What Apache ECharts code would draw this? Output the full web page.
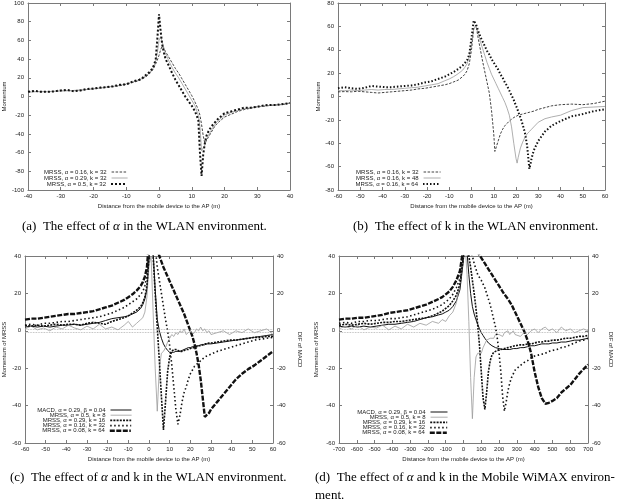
<!DOCTYPE html>
<html><head><meta charset="utf-8">
<script src="https://cdn.jsdelivr.net/npm/echarts@6/dist/echarts.min.js"></script>
<style>html,body{margin:0;padding:0;background:#fff}#c{width:620px;height:503px}</style>
</head><body><div id="c"></div><script>
// ---------- (a) effect of alpha, WLAN ----------
const xA = [-40,-38,-36,-34,-32,-30,-28,-26,-24,-22,-20,-18,-16,-14,-12,-10,-8,-6,-5,-4,-3,-2,-1.5,-1,-0.5,0,0.5,1,1.5,2,3,4,5,6,7,8,9,10,11,12,12.5,13,13.5,14,14.5,15,16,17,18,19,20,22,24,26,28,30,32,34,36,38,40];
const a016 = [5,5.5,5,5.2,5.5,6,6.5,6,6.5,7.5,8,9,10,10.5,11.5,13,15,17,19,21,24,28,31,35,39,44,50,54,52,48,42,36,30,25,19,13,7,1,-6,-14,-20,-30,-42,-50,-48,-44,-38,-32,-28,-25,-22,-19,-16,-14,-12.5,-11,-10.5,-9.5,-9,-8.5,-7];
const a029 = [4.5,5,5.5,5,5.5,6,6,6.5,7,7.5,8.5,9,10,11,12,13.5,15.5,18,20,22,25,29,33,38,47,60,64,58,52,46,38,31,25,20,14,8,2,-4,-10,-20,-32,-58,-60,-52,-46,-42,-36,-30,-26,-23,-20,-17,-15,-13,-12,-11,-10,-9.5,-9,-8,-7];
const a05 = [5,6,5,5,5.5,6.5,7,5.5,6.5,8,8.5,9.5,10,11,12.5,13,16,18,20,23,26,30,34,40,62,88,70,55,47,40,33,25,18,12,6,0,-5,-10,-16,-25,-60,-85,-62,-50,-42,-38,-32,-28,-24,-21,-18,-16,-14,-12,-12,-11,-9.5,-9,-9,-8,-7];
const namesA = ['MRSS, α = 0.16, k = 32','MRSS, α = 0.29, k = 32','MRSS, α = 0.5, k = 32'];

// ---------- (b) effect of k, WLAN ----------
const xB = [-60,-57,-54,-51,-48,-45,-42,-39,-36,-33,-30,-27,-24,-21,-18,-15,-12,-10,-8,-6,-4,-3,-2,-1,0,1,2,3,4,5,6,7,8,9,10,10.5,11,12,13,14,15,16,17,18,19,20,20.5,21,22,23,24,25,26,26.5,27,28,30,33,36,40,45,50,55,60];
const b32 = [4,4.2,4,4.5,4,3.5,3,3.5,4,4.5,5,5.5,6.5,7,8,9,10,11,12.5,14,17,19,22,28,40,58,61,50,40,30,21,12,3,-12,-32,-47,-44,-38,-32,-28,-25,-23,-21,-19.5,-18,-17,-16.5,-16,-15.5,-15,-14.5,-14,-13.5,-13.3,-13,-12.5,-11,-9.5,-8,-7,-6.5,-7,-6,-4];
const b48 = [5,5,5.5,5,5.5,6,5.5,6,6,6.5,7,7.5,8,9,10,11,13.5,15,17,19.5,22.5,25,28,34,45,58,60,54,47,41,35,29,24,19,15,13,11,7,3,-1,-5,-10,-16,-26,-40,-53,-57,-52,-44,-39,-35,-32,-30,-29,-28,-26,-22,-19,-17.5,-16,-12,-9.5,-9,-8.5];
const b64 = [7,8,7,6.5,7.5,9,8.5,8,8,8.5,9,9.5,10.5,12,13,15,17,19,21,23.5,26.5,28.5,31,36,50,65,62,56,51,47,43,39,36,32,29,27.5,26,23,19,16,12,9,5,1,-3,-8,-10,-13,-18,-24,-31,-42,-62,-58,-53,-46,-38,-30,-25,-21,-17,-15,-12.5,-11];
const namesB = ['MRSS, α = 0.16, k = 32','MRSS, α = 0.16, k = 48','MRSS, α = 0.16, k = 64'];

// ---------- (c) alpha and k, WLAN ----------
const xC = [-60,-57,-54,-51,-48,-45,-42,-39,-36,-33,-30,-27,-24,-21,-18,-15,-12,-10,-8,-6,-4,-3,-2,-1,0,1,2,3,4,5,6,7,8,9,10,11,12,13,14,15,16,17,18,19,20,21,22,23,24,25,26,27,28,29,30,33,36,39,42,45,48,51,54,57,60];
const cMACD = [2,2.5,2,2.5,2,2.5,3,3,3.5,3,3.5,4,4.5,5.5,6.5,7,7.5,8,9,10,12,14,17,22,38,50,42,22,6,0,-4,-7,-9,-10.5,-11.5,-11.5,-11.5,-11,-11,-11,-10.5,-10,-9.5,-9,-9,-8.5,-8.5,-8,-8,-7.5,-7.5,-7.5,-7,-7,-7,-6.5,-6,-5.5,-5,-4.5,-4,-3.5,-3,-2.5,-2];
const cK8 = [1,2.5,0.5,1.5,0,2,1,3,1.5,0.5,2.5,1,3.5,1,2,0.5,3,5,2,4,6,7,10,18,35,40,10,-20,-43,-20,-12,-11,-9,-6,-4,-2,-3,-1,-2,0,-1,1,-2,-1,0,-2,-1,1,0,2,0,1,-1,0,-2,-1,0,-2,0,-1,1,-1,0,1,-2];
const cK16 = [3,2.5,3,2.5,3,3.5,3,3.5,3.5,3,4,4.5,4,3.5,5,6,7,8,9.5,11,13,15,18,24,40,55,40,20,2,-16,-35,-53,-38,-22,-14,-11,-10,-10,-10.5,-11,-11,-10.5,-10,-10,-9.5,-9,-9,-8.5,-8,-8,-7.5,-7,-7,-6.5,-6.5,-6,-5.5,-5,-5,-4.5,-4,-3.5,-3.5,-3,-3];
const cK32 = [3,3.5,3,4,4,4.5,5,5,5.5,6,6.5,7,7.5,8.5,9.5,11,12.5,14,15.5,17,19.5,21,24,30,45,58,55,45,34,27,20,13,6,0,-8,-18,-30,-42,-50,-45,-38,-33,-30,-26,-23,-21,-19,-18,-17,-16,-15,-14,-13.5,-13,-12.5,-11,-10,-9,-8,-7,-6,-5,-4.5,-4,-3.5];
const cK64 = [6,6.5,6.5,7,7.5,8,8.5,9,9,9.5,10,10.5,11.5,12.5,13.5,15,16.5,18,19.5,21.5,24,26,29,34,48,58,55,48,44,40,37,34,31.5,29,26.5,24,21.5,19,16.5,14,11.5,9,6,3,0,-3,-7,-12,-18,-26,-36,-46,-45,-44,-42,-38,-34,-30,-26,-23,-20.5,-18.5,-16,-13.5,-11];

// ---------- (d) alpha and k, Mobile WiMAX ----------
const xD = [-700,-665,-630,-595,-560,-525,-490,-455,-420,-385,-350,-315,-280,-245,-210,-175,-140,-120,-100,-80,-60,-40,-20,0,10,20,30,40,50,60,70,80,90,100,110,120,130,140,150,160,170,180,190,200,210,220,230,240,250,260,270,280,290,300,320,340,360,380,400,420,440,460,480,500,525,550,575,600,625,650,675,700];
const dMACD = [2.5,2,2.5,2,2.5,2,2.5,3,3.5,3.5,4,4.5,5,6,7,7.5,8.5,9,10,11,13,16,22,38,50,42,30,20,13,9,6,3.5,1,-1,-2.5,-4,-5,-6.5,-7.5,-8,-8.5,-9,-9.5,-9.5,-10,-10,-10,-10,-10,-10,-10,-9.5,-9.5,-9.5,-9,-9,-8.5,-8,-8,-7.5,-7,-7,-7,-6.5,-6.5,-6,-6,-5.5,-5,-5,-4.5,-4];
const dK8 = [1,2.5,1,3,0.5,2,1.5,3,0.5,2.5,1,3.5,2,4,3,5,4,6,5,8,10,15,25,40,45,30,5,-25,-47,-25,-14,-12,-11,-12,-9,-7,-5,-6,-4,-3,-4,-2,-3,-2,-1,-3,-1,-2,0,-2,-1,0,-2,-1,-3,-1,-2,0,1,-1,1,2,0,1,-1,2,0,1,-1,0,1,0];
const dK16 = [3,3.5,3,3.5,4,3.5,4,4.5,4.5,5,5,5.5,6,6.5,7,8,9.5,10.5,12,13.5,16,19,25,40,52,48,40,34,27,20,12,3,-8,-22,-36,-42,-33,-22,-16,-13,-11.5,-11,-10.5,-10,-10,-9.5,-9.5,-9,-9,-9,-8.5,-8.5,-8,-8,-7.5,-7.5,-7,-7,-6.5,-6,-6,-5.5,-5.5,-5,-5,-4.5,-4,-4,-3.5,-3,-3,-2.5];
const dK32 = [4,4.5,4,5,5,5.5,5.5,6,6.5,6.5,7,7.5,8.5,9.5,10.5,11.5,13,14,15.5,17,19.5,23,28,42,55,52,48,44,40,36,33,30,28.5,27,25,23,20,17,14,10,6,2,-4,-12,-22,-35,-43,-38,-32,-28,-25,-23,-21,-20,-18.5,-17,-16,-14.5,-13.5,-13,-12.5,-12,-11,-10.5,-10,-9,-8.5,-7.5,-6.5,-5.5,-5,-4];
const dK64 = [6,6.5,6.5,7,7,7.5,8,8.5,9.5,10,10.5,11,12,13,14,15.5,17,18,19.5,21,23.5,27,32,45,55,55,52,50,48,46,44,42,41,39,37.5,36,34.5,33,31.5,30,28.5,27,25.5,24,22.5,21,19.5,18.5,17,15.5,14,12,10,8,4,0,-5,-12,-22,-30,-36,-39,-38.5,-37.5,-36,-33,-31,-29,-26,-23,-20.5,-18];
const namesCD = ['MACD, α = 0.29, β = 0.04','MRSS, α = 0.5, k = 8','MRSS, α = 0.29, k = 16','MRSS, α = 0.16, k = 32','MRSS, α = 0.08, k = 64'];

const xTitle = 'Distance from the mobile device to the AP (m)';

// ---------- styles ----------
const FRAME = '#7a7a7a', TXT = '#222', FONT = 'Liberation Sans';
const ST = {
  thinDash: {color:'#111', width:0.8, type:[2.5,1.5]},
  gray: {color:'#9a9a9a', width:0.8, type:'solid'},
  thickDash: {color:'#111', width:2, type:[2,2]},
  thickDot: {color:'#111', width:2, type:[1.5,2]},
  macd: {color:'#111', width:1, type:'solid'},
  k16: {color:'#111', width:1.6, type:[2,1.2]},
  k32: {color:'#111', width:1.6, type:[1.5,2.5]},
  k64: {color:'#111', width:2.4, type:[5,1.5]}
};
const stylesA = [ST.thinDash, ST.gray, ST.thickDash];
const stylesB = [ST.thinDash, ST.gray, ST.thickDot];
const stylesCD = [ST.macd, ST.gray, ST.k16, ST.k32, ST.k64];

const zip = (xs, ys) => xs.map((x, i) => [x, ys[i]]);
const tag = n => '\u200b'.repeat(n);

function xAx(grid, min, max, step, pos, labels, name) {
  return {type:'value', gridIndex:grid, min, max, interval:step, position:pos,
    axisLine:{show:true, onZero:false, lineStyle:{color:FRAME, width:1}},
    axisTick:{show:true, inside:true, length:3, lineStyle:{color:FRAME}},
    splitLine:{show:false},
    axisLabel:{show:labels, fontSize:6, color:TXT, margin:3, fontFamily:FONT},
    name:name || '', nameLocation:'middle', nameGap:13,
    nameTextStyle:{fontSize:6, color:TXT, fontFamily:FONT}};
}
function yAx(grid, min, max, step, pos, labels, name, gap, rot) {
  return {type:'value', gridIndex:grid, min, max, interval:step, position:pos,
    axisLine:{show:true, onZero:false, lineStyle:{color:FRAME, width:1}},
    axisTick:{show:true, inside:true, length:3, lineStyle:{color:FRAME}},
    splitLine:{show:false},
    axisLabel:{show:labels, fontSize:6, color:TXT, margin:4, fontFamily:FONT},
    name:name || '', nameLocation:'middle', nameGap:gap || 20, nameRotate:rot,
    nameTextStyle:{fontSize:6, color:TXT, fontFamily:FONT}};
}
function ser(name, xi, yi, data, ls, extra) {
  return Object.assign({type:'line', name, xAxisIndex:xi, yAxisIndex:yi, data,
    symbol:'none', showSymbol:false, lineStyle:ls, itemStyle:{color:ls.color},
    clip:true, silent:true, animation:false}, extra || {});
}

const threshold = {markLine:{silent:true, symbol:'none', label:{show:false},
  lineStyle:{color:'#aaa', type:'dotted', width:0.8}, data:[{yAxis:1},{yAxis:-1}]}};

const series = [
  ser(namesA[0] + tag(1), 0, 0, zip(xA, a016), stylesA[0]),
  ser(namesA[1] + tag(1), 0, 0, zip(xA, a029), stylesA[1]),
  ser(namesA[2] + tag(1), 0, 0, zip(xA, a05), stylesA[2]),
  ser(namesB[0] + tag(2), 2, 2, zip(xB, b32), stylesB[0]),
  ser(namesB[1] + tag(2), 2, 2, zip(xB, b48), stylesB[1]),
  ser(namesB[2] + tag(2), 2, 2, zip(xB, b64), stylesB[2]),
  ser(namesCD[0] + tag(3), 4, 4, zip(xC, cMACD), stylesCD[0], threshold),
  ser(namesCD[1] + tag(3), 4, 4, zip(xC, cK8), stylesCD[1]),
  ser(namesCD[2] + tag(3), 4, 4, zip(xC, cK16), stylesCD[2]),
  ser(namesCD[3] + tag(3), 4, 4, zip(xC, cK32), stylesCD[3]),
  ser(namesCD[4] + tag(3), 4, 4, zip(xC, cK64), stylesCD[4]),
  ser(namesCD[0] + tag(4), 6, 6, zip(xD, dMACD), stylesCD[0], threshold),
  ser(namesCD[1] + tag(4), 6, 6, zip(xD, dK8), stylesCD[1]),
  ser(namesCD[2] + tag(4), 6, 6, zip(xD, dK16), stylesCD[2]),
  ser(namesCD[3] + tag(4), 6, 6, zip(xD, dK32), stylesCD[3]),
  ser(namesCD[4] + tag(4), 6, 6, zip(xD, dK64), stylesCD[4])
];

function legendsFor(names, styles, t, right, top0, step, w) {
  return names.map((n, i) => ({
    data:[n + tag(t)], right, top: top0 + i * step, orient:'vertical', align:'right',
    itemWidth:w, itemHeight:6, padding:0, selectedMode:false,
    itemStyle:{color:'rgba(0,0,0,0)', borderColor:'rgba(0,0,0,0)', borderWidth:0, opacity:0},
    lineStyle:{width:styles[i].width, color:styles[i].color, type:styles[i].type},
    formatter: s => s.replace(/\u200b/g, ''),
    textStyle:{fontSize:6, color:TXT, fontFamily:FONT, padding:0}
  }));
}

const legends = [].concat(
  legendsFor(namesA, stylesA, 1, 620 - 128, 169, 6, 16),
  legendsFor(namesB, stylesB, 2, 620 - 441, 169, 6, 17),
  legendsFor(namesCD, stylesCD, 3, 620 - 132, 407, 5.2, 21),
  legendsFor(namesCD, stylesCD, 4, 620 - 448, 409, 5.2, 17)
);

const capFont = {fontSize:13, fontFamily:'Liberation Serif', fill:'#000',
  rich:{i:{fontSize:13, fontFamily:'Liberation Serif', fontStyle:'italic'}}};
function cap(text, left, top) {
  return {type:'text', left, top, silent:true, style:Object.assign({text}, capFont)};
}

const option = {
  backgroundColor:'#fff',
  animation:false,
  grid:[
    {left:27, top:2, width:263, height:188},
    {left:338, top:2, width:267, height:188},
    {left:23, top:256, width:250, height:187},
    {left:339, top:256, width:249, height:187}
  ],
  xAxis:[
    xAx(0, -40, 40, 10, 'bottom', true, xTitle), xAx(0, -40, 40, 10, 'top', false),
    xAx(1, -60, 60, 10, 'bottom', true, xTitle), xAx(1, -60, 60, 10, 'top', false),
    xAx(2, -60, 60, 10, 'bottom', true, xTitle), xAx(2, -60, 60, 10, 'top', false),
    xAx(3, -700, 700, 100, 'bottom', true, xTitle), xAx(3, -700, 700, 100, 'top', false)
  ],
  yAxis:[
    yAx(0, -100, 100, 20, 'left', true, 'Momentum', 21), yAx(0, -100, 100, 20, 'right', false),
    yAx(1, -80, 80, 20, 'left', true, 'Momentum', 16), yAx(1, -80, 80, 20, 'right', false),
    yAx(2, -60, 40, 20, 'left', true, 'Momentum of MRSS', 18), yAx(2, -60, 40, 20, 'right', true, 'DIF of MACD', 24, -90),
    yAx(3, -60, 40, 20, 'left', true, 'Momentum of MRSS', 20), yAx(3, -60, 40, 20, 'right', true, 'DIF of MACD', 20, -90)
  ],
  legend: legends,
  series,
  graphic:[
    cap('(a)  The effect of {i|α} in the WLAN environment.', 22, 220),
    cap('(b)  The effect of k in the WLAN environment.', 353, 220),
    cap('(c)  The effect of {i|α} and k in the WLAN environment.', 10, 471),
    cap('(d)  The effect of {i|α} and k in the Mobile WiMAX environ-', 315, 471),
    cap('ment.', 315, 489)
  ]
};

const chart = echarts.init(document.getElementById('c'), null, {renderer:'canvas'});
chart.setOption(option);
</script></body></html>
